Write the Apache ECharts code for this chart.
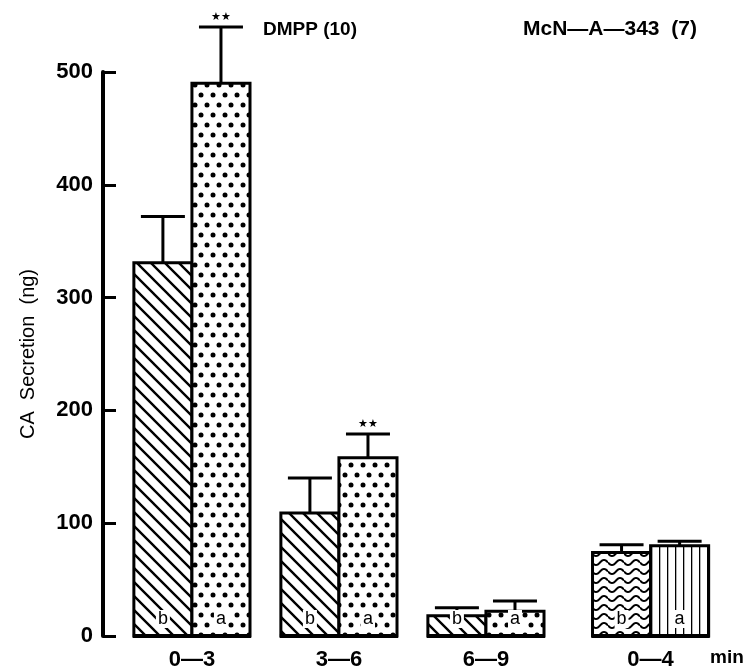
<!DOCTYPE html>
<html>
<head>
<meta charset="utf-8">
<script src="https://cdn.jsdelivr.net/npm/echarts@6/dist/echarts.min.js"></script>
<style>
  html, body { margin: 0; padding: 0; background: #fff; }
  #chart { width: 746px; height: 670px; }
</style>
</head>
<body>
<div id="chart"></div>
<script>
// 时间段 (min)
const categories = ['0\u20143', '3\u20146', '6\u20149', '0\u20144'];
// 刺激药物 (组)
const experiment = ['DMPP', 'DMPP', 'DMPP', 'McN'];
const experimentTitles = ['DMPP (10)', 'McN\u2014A\u2014343  (7)'];
// b: 处理前, a: 处理后 (CA ng)
const beforeMean = [331, 109, 18, 74];
const beforeErr = [41, 31, 7, 7];
const afterMean = [490, 158, 22, 80];
const afterErr = [50, 21, 9, 4];
const signif = ['**', '**', '', ''];
const yTicks = [0, 100, 200, 300, 400, 500];

// 填充图案
function makeTile(w, h, draw) {
    const c = document.createElement('canvas');
    c.width = w;
    c.height = h;
    const ctx = c.getContext('2d');
    ctx.fillStyle = '#fff';
    ctx.fillRect(0, 0, w, h);
    ctx.strokeStyle = '#000';
    ctx.fillStyle = '#000';
    draw(ctx);
    return { image: c, repeat: 'repeat' };
}
const hatch = makeTile(14, 14, ctx => {
    ctx.lineWidth = 2.4;
    ctx.beginPath();
    ctx.moveTo(-2, -2); ctx.lineTo(16, 16);
    ctx.moveTo(-16, -2); ctx.lineTo(2, 16);
    ctx.moveTo(12, -2); ctx.lineTo(30, 16);
    ctx.stroke();
});
const dots = makeTile(12, 20, ctx => {
    [[3, 5], [9, 15]].forEach(p => {
        ctx.beginPath();
        ctx.arc(p[0], p[1], 2.5, 0, Math.PI * 2);
        ctx.fill();
    });
});
const waves = makeTile(16, 9, ctx => {
    ctx.lineWidth = 2;
    ctx.beginPath();
    for (let x = 0; x <= 16; x++) {
        const y = 4.5 + 2.6 * Math.sin(x / 16 * Math.PI * 2);
        if (x === 0) ctx.moveTo(x, y); else ctx.lineTo(x, y);
    }
    ctx.stroke();
});
const stripes = makeTile(8, 4, ctx => {
    ctx.fillRect(3, 0, 1.3, 4);
});

const EXP_GAP = 0.12;   // 两组实验之间的额外间距
const BAR_W = 0.395;    // 单根柱宽 (x 单位)
const CAP_W = 44;       // 误差线帽宽 (px)

const data = categories.map((c, i) => [i, beforeMean[i], beforeErr[i], afterMean[i], afterErr[i]]);

function renderItem(params, api) {
    const i = params.dataIndex;
    const isMcN = experiment[i] !== experiment[0];
    const x = api.value(0) + (isMcN ? EXP_GAP : 0);
    const bw = api.size([BAR_W, 0])[0];
    const base = api.coord([x, 0]);
    const cx = base[0];
    const y0 = base[1];
    const children = [];
    const bars = [
        { v: api.value(1), e: api.value(2), left: cx - bw, fill: isMcN ? waves : hatch, letter: 'b', sig: '' },
        { v: api.value(3), e: api.value(4), left: cx, fill: isMcN ? stripes : dots, letter: 'a', sig: signif[i] }
    ];
    bars.forEach(b => {
        const top = api.coord([x, b.v])[1];
        const capY = api.coord([x, b.v + b.e])[1];
        const mid = b.left + bw / 2;
        children.push({
            type: 'line',
            shape: { x1: mid, y1: top, x2: mid, y2: capY },
            style: { stroke: '#000', lineWidth: 3 }
        });
        children.push({
            type: 'line',
            shape: { x1: mid - CAP_W / 2, y1: capY, x2: mid + CAP_W / 2, y2: capY },
            style: { stroke: '#000', lineWidth: 3 }
        });
        children.push({
            type: 'rect',
            shape: { x: b.left, y: top, width: bw, height: y0 - top },
            style: { fill: b.fill, stroke: '#000', lineWidth: 3 }
        });
        children.push({
            type: 'text',
            style: {
                text: b.letter, x: mid, y: y0 - 17, align: 'center', verticalAlign: 'middle',
                fontSize: 18, fontFamily: 'Liberation Sans', fill: '#000',
                backgroundColor: '#fff', padding: [0, 2, 0, 2]
            }
        });
        if (b.sig) {
            children.push({
                type: 'text',
                style: {
                    text: '\u2605\u2605', x: mid, y: capY - 10, align: 'center', verticalAlign: 'middle',
                    fontSize: 11, fontFamily: 'DejaVu Sans', fill: '#000'
                }
            });
        }
    });
    // 底线
    children.push({
        type: 'line',
        shape: { x1: cx - bw - 1, y1: y0, x2: cx + bw + 1, y2: y0 },
        style: { stroke: '#000', lineWidth: 4 }
    });
    // 时间段标签
    children.push({
        type: 'text',
        style: {
            text: categories[i], x: cx, y: y0 + 24, align: 'center', verticalAlign: 'middle',
            fontSize: 22, fontWeight: 'bold', fontFamily: 'Liberation Sans', fill: '#000'
        }
    });
    return { type: 'group', children: children };
}

const chart = echarts.init(document.getElementById('chart'));
chart.setOption({
    backgroundColor: '#fff',
    animation: false,
    grid: { left: 103, right: 20, top: 72, bottom: 34 },
    title: [
        { text: experimentTitles[0], left: 258, top: 15,
          textStyle: { fontSize: 19, fontWeight: 'bold', fontFamily: 'Liberation Sans', color: '#000' } },
        { text: experimentTitles[1], left: 518, top: 14,
          textStyle: { fontSize: 21, fontWeight: 'bold', fontFamily: 'Liberation Sans', color: '#000' } },
        { text: 'min', left: 705, top: 643,
          textStyle: { fontSize: 19, fontWeight: 'bold', fontFamily: 'Liberation Sans', color: '#000' } }
    ],
    xAxis: {
        type: 'value',
        min: -0.605,
        max: 3.633,
        show: false
    },
    yAxis: {
        type: 'value',
        min: yTicks[0],
        max: yTicks[yTicks.length - 1],
        interval: 100,
        name: 'CA  Secretion  (ng)',
        nameLocation: 'middle',
        nameGap: 65,
        nameTextStyle: { fontSize: 20, fontFamily: 'Liberation Sans', color: '#000' },
        axisLine: { show: true, onZero: false, lineStyle: { color: '#000', width: 4 } },
        axisTick: { show: true, inside: true, length: 13, lineStyle: { color: '#000', width: 3 } },
        axisLabel: { margin: 10, fontSize: 22, fontWeight: 'bold', fontFamily: 'Liberation Sans', color: '#000' },
        splitLine: { show: false }
    },
    series: [{
        type: 'custom',
        renderItem: renderItem,
        data: data,
        clip: false,
        z: 3
    }]
});
</script>
</body>
</html>
